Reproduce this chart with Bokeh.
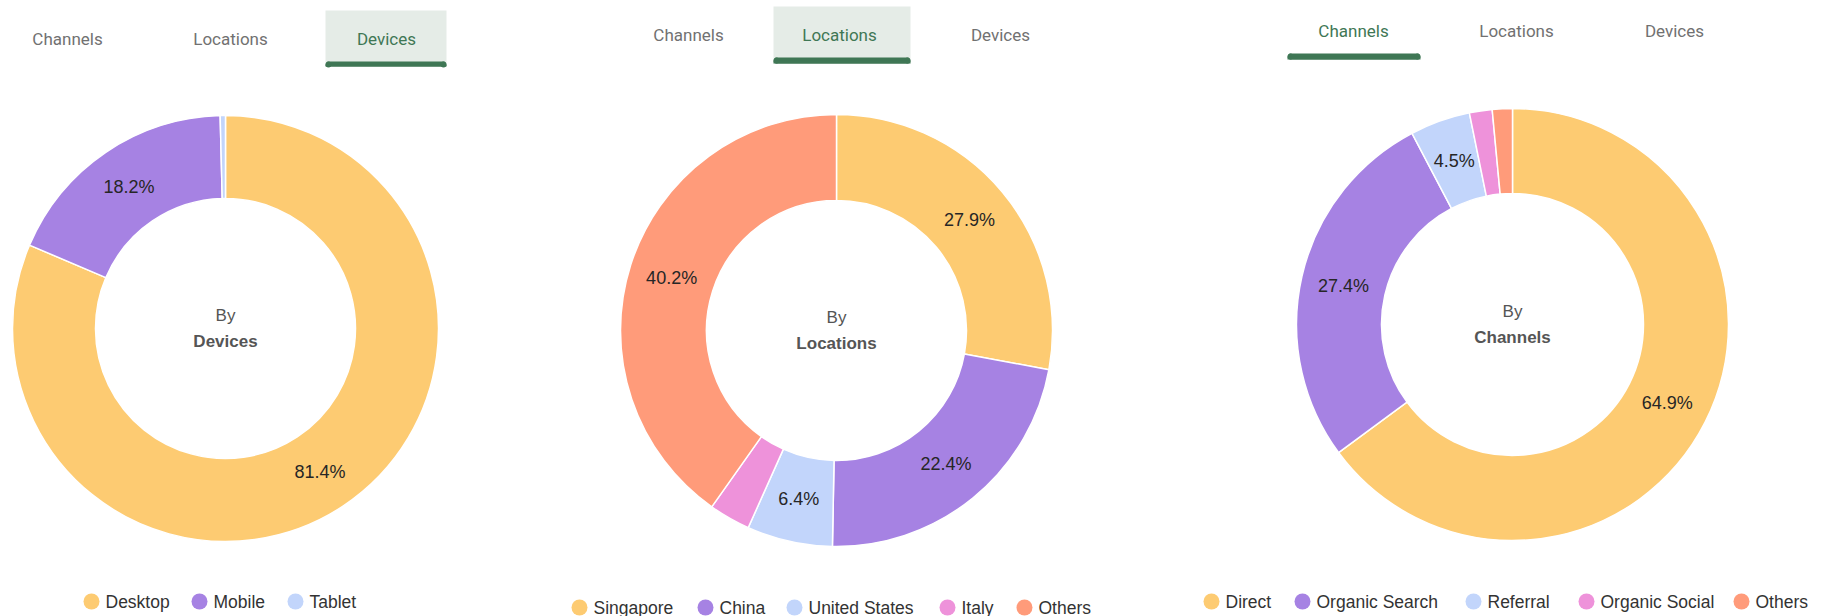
import numpy as np
from bokeh.plotting import figure
from bokeh.models import Range1d, ColumnDataSource
from bokeh.core.properties import value
from bokeh.embed import file_html
from bokeh.resources import INLINE

# ---------------- data ----------------
device_labels = ["Desktop", "Mobile", "Tablet"]
device_values = [81.4, 18.2, 0.4]

location_labels = ["Singapore", "China", "United States", "Italy", "Others"]
location_values = [27.9, 22.4, 6.4, 3.1, 40.2]

channel_labels = ["Direct", "Organic Search", "Referral", "Organic Social", "Others"]
channel_values = [64.9, 27.4, 4.5, 1.7, 1.5]

tab_labels = ["Channels", "Locations", "Devices"]

# ---------------- styles ----------------
YELLOW = "#FDCB72"
PURPLE = "#A682E3"
LBLUE = "#C2D5FB"
PINK = "#EE92DA"
SALMON = "#FF9B7A"
palette5 = [YELLOW, PURPLE, LBLUE, PINK, SALMON]
palette3 = [YELLOW, PURPLE, LBLUE]

GREEN = "#3F7755"
TAB_BG = "#E5ECE7"
GRAY = "#717171"

W, H = 1823, 616

p = figure(width=W, height=H, output_backend="svg", toolbar_location=None,
           x_range=Range1d(0, W), y_range=Range1d(0, H), min_border=0)
p.axis.visible = False
p.grid.visible = False
p.outline_line_color = None
p.background_fill_color = "white"
p.border_fill_color = "white"


def fy(y):
    return H - y


def donut(cx, cy, R, r, labels, values, colors, center_word):
    vals = np.array(values, dtype=float)
    frac = vals / vals.sum()
    c_end = np.cumsum(frac)
    c_start = c_end - frac
    start = np.pi / 2 - 2 * np.pi * c_end
    end = np.pi / 2 - 2 * np.pi * c_start
    src = ColumnDataSource(dict(start=start, end=end, color=colors[:len(vals)]))
    p.annular_wedge(x=cx, y=fy(cy), inner_radius=r, outer_radius=R,
                    start_angle="start", end_angle="end", direction="anticlock",
                    fill_color="color", line_color="white", line_width=1.5,
                    source=src)
    mid = (c_start + c_end) / 2
    ang = np.pi / 2 - 2 * np.pi * mid
    rm = (R + r) / 2
    show = vals >= 4
    lx = cx + rm * np.cos(ang[show])
    ly = fy(cy) + rm * np.sin(ang[show])
    txt = ["%.1f%%" % v for v in vals[show]]
    p.text(x=lx, y=ly, text=txt, text_align="center", text_baseline="middle",
           text_font=value("Liberation Sans"), text_font_size="18px",
           text_color="#262626")
    p.text(x=[cx], y=[fy(cy - 13)], text=["By"], text_align="center",
           text_baseline="middle", text_font=value("Liberation Sans"),
           text_font_size="17px", text_color="#555555")
    p.text(x=[cx], y=[fy(cy + 13)], text=[center_word], text_align="center",
           text_baseline="middle", text_font=value("Liberation Sans"),
           text_font_size="17px", text_font_style="bold", text_color="#555555")


def tabs(xs, ty, active, box=None, underline=None):
    if box is not None:
        x0, x1, y0, y1 = box
        p.quad(left=x0, right=x1, top=fy(y0), bottom=fy(y1),
               fill_color=TAB_BG, line_color=None)
    if underline is not None:
        x0, x1, y0, y1 = underline
        p.quad(left=x0 + 2, right=x1 - 2, top=fy(y0), bottom=fy(y1),
               fill_color=GREEN, line_color=None)
        p.circle(x=[x0 + 3, x1 - 3], y=[fy(y0 + 3)] * 2, radius=3,
                 fill_color=GREEN, line_color=None)
        p.quad(left=x0, right=x1, top=fy(y0 + 3), bottom=fy(y1),
               fill_color=GREEN, line_color=None)
    cols = [GREEN if i == active else GRAY for i in range(len(tab_labels))]
    p.text(x=xs, y=[fy(ty)] * len(xs), text=tab_labels, text_align="center",
           text_baseline="middle", text_font=value("Roboto"),
           text_font_size="17px", text_color=cols)


def legend(dot_xs, ly, labels, colors):
    p.scatter(x=dot_xs, y=[fy(ly)] * len(dot_xs), size=16, marker="circle",
              fill_color=colors[:len(labels)], line_color=None)
    p.text(x=[x + 14 for x in dot_xs], y=[fy(ly)] * len(dot_xs), text=labels,
           text_align="left", text_baseline="middle",
           text_font=value("Liberation Sans"), text_font_size="17.5px",
           text_color="#333333")


# chart 1: devices
tabs([67, 230, 386], 38, 2, box=(325, 446, 10, 66), underline=(325, 446, 61, 66))
donut(225, 328, 213, 130, device_labels, device_values, palette3, "Devices")
legend([91, 199, 295], 601, device_labels, palette3)

# chart 2: locations
tabs([688, 839, 1000], 34, 1, box=(773, 910, 6, 63), underline=(773, 910, 57, 63))
donut(836, 330, 216, 130, location_labels, location_values, palette5, "Locations")
legend([579, 705, 794, 947, 1024], 607, location_labels, palette5)

# chart 3: channels
tabs([1353, 1516, 1674], 30, 0, underline=(1287, 1420, 53, 59))
donut(1512, 324, 216, 131, channel_labels, channel_values, palette5, "Channels")
legend([1211, 1302, 1473, 1586, 1741], 601, channel_labels, palette5)

open("out.html", "w").write(file_html(p, INLINE))
